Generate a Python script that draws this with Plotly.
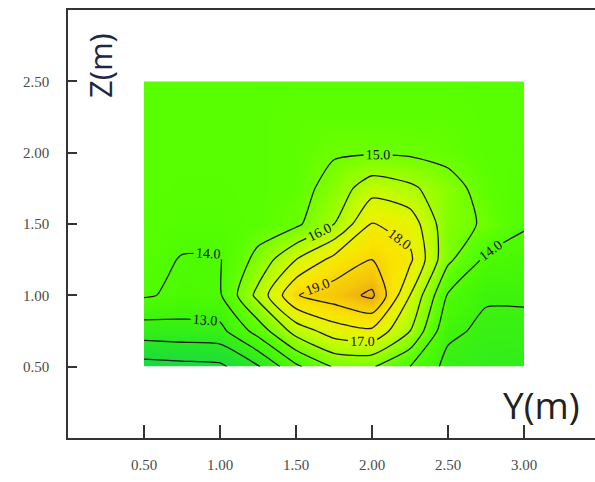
import plotly.graph_objects as go

# Data
y_pos = [0.5, 0.75, 1.0, 1.25, 1.5, 1.75, 2.0, 2.25, 2.5, 2.75, 3.0]   # Y (m)
z_pos = [0.5, 0.75, 1.0, 1.25, 1.5, 1.75, 2.0, 2.25, 2.5]             # Z (m)
values = [
    [10.6, 10.7, 10.8, 11.9, 13.8, 15.1, 15.1, 14.0, 12.7, 12.5, 12.4],
    [12.5, 12.6, 12.7, 14.4, 16.4, 17.5, 17.8, 16.0, 13.2, 12.8, 12.8],
    [14.1, 13.8, 13.9, 16.3, 18.95, 19.5, 20.2, 17.0, 13.9, 13.1, 13.1],
    [14.3, 13.95, 13.95, 15.3, 17.0, 18.3, 19.0, 18.2, 15.2, 13.8, 13.6],
    [14.4, 14.3, 14.3, 14.5, 14.8, 16.0, 18.05, 17.6, 15.3, 14.9, 14.1],
    [14.5, 14.4, 14.4, 14.5, 14.6, 15.4, 16.6, 16.2, 15.4, 14.6, 14.3],
    [14.5, 14.5, 14.5, 14.5, 14.6, 14.9, 14.9, 14.85, 14.7, 14.5, 14.4],
    [14.5, 14.5, 14.5, 14.5, 14.6, 14.6, 14.6, 14.6, 14.6, 14.5, 14.5],
    [14.5, 14.5, 14.5, 14.5, 14.5, 14.5, 14.5, 14.5, 14.5, 14.5, 14.5],
]
x_ticks = [0.5, 1.0, 1.5, 2.0, 2.5, 3.0]
y_ticks = [0.5, 1.0, 1.5, 2.0, 2.5]

zmin, zmax = 10.5, 20.3
stops = [
    (10.5, "rgb(25,215,70)"),
    (12.0, "rgb(40,232,35)"),
    (13.5, "rgb(70,248,5)"),
    (14.5, "rgb(88,255,0)"),
    (15.5, "rgb(140,255,0)"),
    (16.5, "rgb(190,252,0)"),
    (17.5, "rgb(230,245,0)"),
    (18.5, "rgb(250,228,0)"),
    (19.5, "rgb(245,198,10)"),
    (20.3, "rgb(235,165,20)"),
]
colorscale = [[(v - zmin) / (zmax - zmin), c] for v, c in stops]

fig = go.Figure()
fig.add_trace(go.Contour(
    x=y_pos, y=z_pos, z=values,
    zmin=zmin, zmax=zmax,
    colorscale=colorscale,
    showscale=False,
    contours=dict(start=11, end=20, size=1, coloring="heatmap",
                  showlabels=True,
                  labelfont=dict(family="Liberation Serif", size=14, color="#111")),
    contours_labelformat=".1f",
    line=dict(color="#1a1a1a", width=1.3, smoothing=0.6),
    hoverinfo="skip",
))

L, R, T, B, W, H = 68, 0, 10, 44, 595, 482

fig.update_layout(
    width=W, height=H,
    margin=dict(l=L, r=R, t=T, b=B),
    paper_bgcolor="white", plot_bgcolor="white",
    showlegend=False,
    xaxis=dict(range=[0, 3.467], tickvals=x_ticks, ticktext=[f"{v:.2f}" for v in x_ticks],
               ticks="inside", ticklen=13, tickwidth=1.5, tickcolor="#333",
               showline=True, linecolor="#333", linewidth=1.5, mirror=True,
               showgrid=False, zeroline=False, ticklabelstandoff=12,
               tickfont=dict(family="Liberation Serif", size=15, color="#4a4a4a")),
    yaxis=dict(range=[0, 3.0], tickvals=y_ticks, ticktext=[f"{v:.2f}" for v in y_ticks],
               ticks="inside", ticklen=9, tickwidth=1.5, tickcolor="#333",
               showline=True, linecolor="#333", linewidth=1.5, mirror=False,
               showgrid=False, zeroline=False, ticklabelstandoff=14,
               tickfont=dict(family="Liberation Serif", size=15, color="#4a4a4a")),
)

def px_to_paper(px, py):
    return (px - L) / (W - L - R), (H - B - py) / (H - B - T)

zx, zy = px_to_paper(100, 66)
yx, yy = px_to_paper(541, 404)
fig.add_annotation(text="Z(m)", x=zx, y=zy, xref="paper", yref="paper", showarrow=False,
                   textangle=-90, xanchor="center", yanchor="middle",
                   font=dict(family="Open Sans", size=31, color="#1c2845"))
fig.add_annotation(text="Y(m)", x=yx, y=yy, xref="paper", yref="paper", showarrow=False,
                   xanchor="center", yanchor="middle",
                   font=dict(family="Open Sans", size=37, color="#222"))

fig.write_html("out.html")
